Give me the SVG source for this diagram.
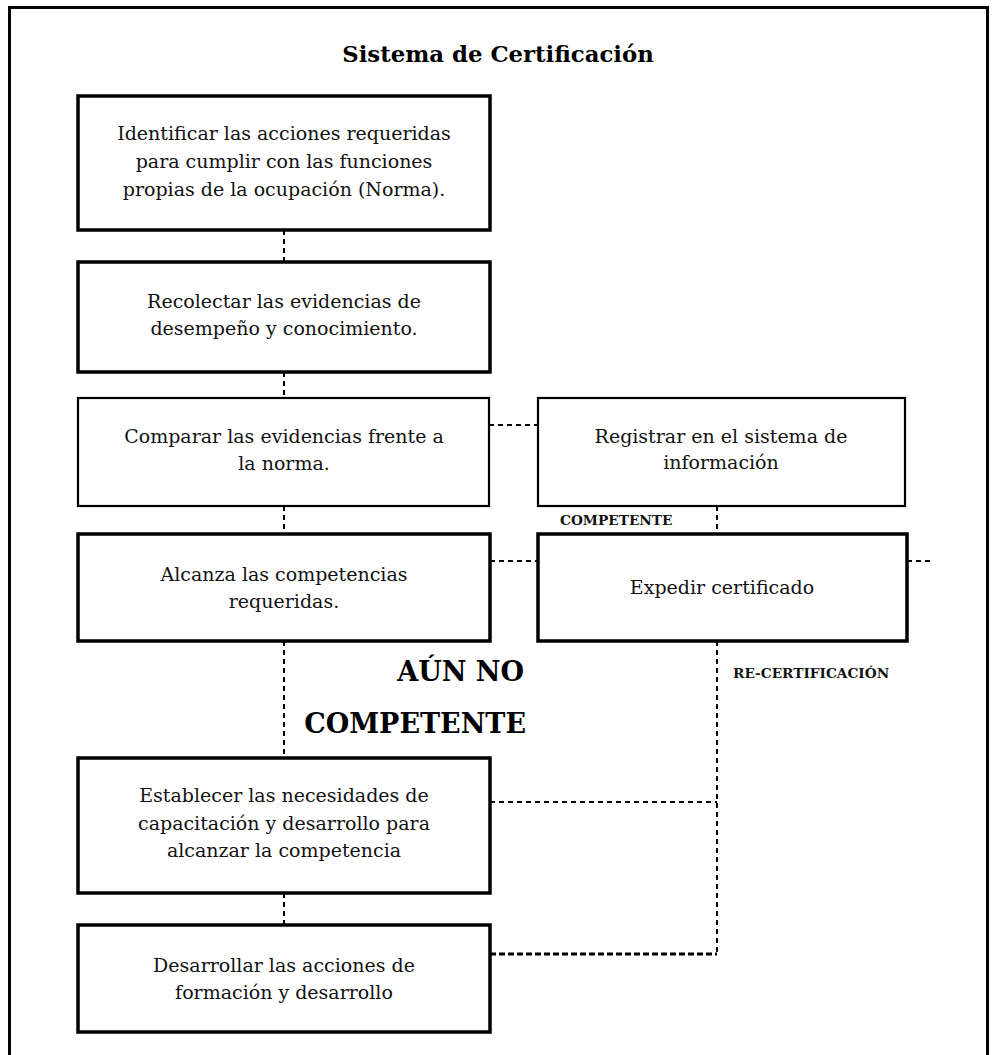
<svg xmlns="http://www.w3.org/2000/svg" width="992" height="1055" viewBox="0 0 992 1055">
  <style>
    .frame { fill: none; stroke: #000; stroke-width: 3; }
    .box { fill: #fff; stroke: #000; stroke-width: 3.5; }
    .box-thin { fill: #fff; stroke: #000; stroke-width: 2.2; }
    .link { fill: none; stroke: #000; stroke-width: 2; stroke-dasharray: 5 4; }
    .link-bold { fill: none; stroke: #000; stroke-width: 3; stroke-dasharray: 6 3; }
    .label { font-family: "DejaVu Serif", "Liberation Serif", serif; font-size: 19px; fill: #111; text-anchor: middle; }
    .title { font-family: "DejaVu Serif", "Liberation Serif", serif; font-size: 22.8px; font-weight: bold; fill: #000; text-anchor: middle; }
    .tag { font-family: "DejaVu Serif", "Liberation Serif", serif; font-size: 13.7px; font-weight: bold; fill: #111; }
    .tag-big { font-family: "DejaVu Serif", "Liberation Serif", serif; font-size: 27px; font-weight: bold; fill: #000; text-anchor: end; }
  </style>

  <!-- page frame (open at the bottom) -->
  <path class="frame" d="M9.5 1055 V7.5 H987.5 V1055"/>

  <text class="title" x="498" y="62">Sistema de Certificación</text>

  <!-- connectors -->
  <g id="connectors">
    <line class="link" x1="284" y1="230" x2="284" y2="262"/>
    <line class="link" x1="284" y1="372" x2="284" y2="398"/>
    <line class="link" x1="489" y1="425" x2="538" y2="425"/>
    <line class="link" x1="284" y1="506" x2="284" y2="534"/>
    <line class="link" x1="717" y1="506" x2="717" y2="534"/>
    <line class="link" x1="490" y1="561" x2="538" y2="561"/>
    <line class="link" x1="907" y1="561" x2="930" y2="561"/>
    <line class="link" x1="284" y1="641" x2="284" y2="758"/>
    <line class="link" x1="717" y1="641" x2="717" y2="954"/>
    <line class="link" x1="490" y1="802" x2="717" y2="802"/>
    <line class="link" x1="284" y1="893" x2="284" y2="925"/>
    <line class="link-bold" x1="490" y1="954" x2="717" y2="954"/>
  </g>

  <g id="n1">
    <rect class="box" x="78" y="96" width="412" height="134"/>
    <text class="label" x="284" y="140">Identificar las acciones requeridas</text>
    <text class="label" x="284" y="168">para cumplir con las funciones</text>
    <text class="label" x="284" y="196">propias de la ocupación (Norma).</text>
  </g>

  <g id="n2">
    <rect class="box" x="78" y="262" width="412" height="110"/>
    <text class="label" x="284" y="308">Recolectar las evidencias de</text>
    <text class="label" x="284" y="335">desempeño y conocimiento.</text>
  </g>

  <g id="n3">
    <rect class="box-thin" x="78" y="398" width="411" height="108"/>
    <text class="label" x="284" y="443">Comparar las evidencias frente a</text>
    <text class="label" x="284" y="470">la norma.</text>
  </g>

  <g id="n4">
    <rect class="box-thin" x="538" y="398" width="367" height="108"/>
    <text class="label" x="721" y="443">Registrar en el sistema de</text>
    <text class="label" x="721" y="469">información</text>
  </g>

  <g id="n5">
    <rect class="box" x="78" y="534" width="412" height="107"/>
    <text class="label" x="284" y="581">Alcanza las competencias</text>
    <text class="label" x="284" y="608">requeridas.</text>
  </g>

  <g id="n6">
    <rect class="box" x="538" y="534" width="369" height="107"/>
    <text class="label" x="722" y="594">Expedir certificado</text>
  </g>

  <g id="n7">
    <rect class="box" x="78" y="758" width="412" height="135"/>
    <text class="label" x="284" y="802">Establecer las necesidades de</text>
    <text class="label" x="284" y="830">capacitación y desarrollo para</text>
    <text class="label" x="284" y="857">alcanzar la competencia</text>
  </g>

  <g id="n8">
    <rect class="box" x="78" y="925" width="412" height="107"/>
    <text class="label" x="284" y="972">Desarrollar las acciones de</text>
    <text class="label" x="284" y="999">formación y desarrollo</text>
  </g>

  <!-- branch labels -->
  <text class="tag" x="560" y="525">COMPETENTE</text>
  <text class="tag" x="733" y="678">RE-CERTIFICACIÓN</text>
  <text class="tag-big" x="524" y="681">AÚN NO</text>
  <text class="tag-big" x="526" y="733">COMPETENTE</text>
</svg>
